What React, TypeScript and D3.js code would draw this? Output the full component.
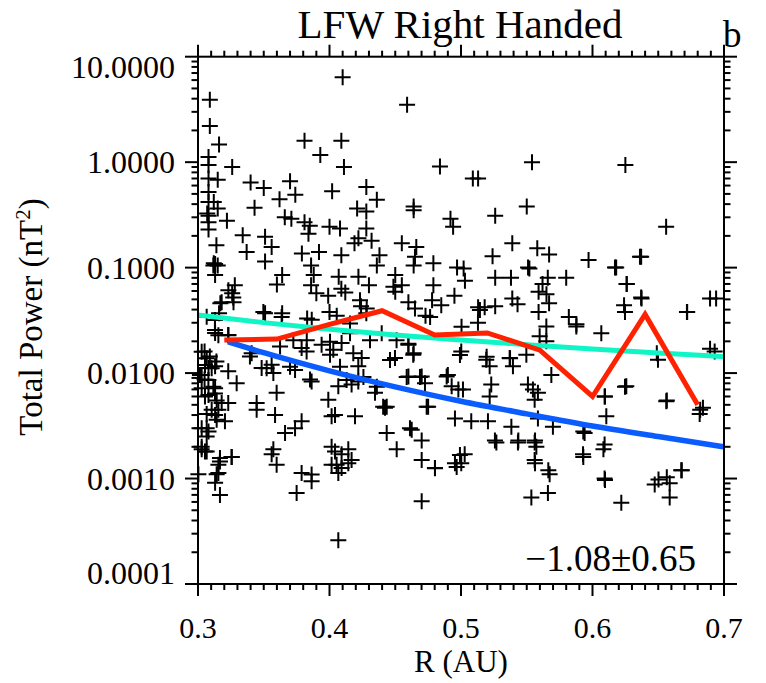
import React from "react";
import * as d3 from "d3";

// Scatter data: [R (AU), Total Power (nT^2)]
const scatterR: number[] = [];
const scatterP: number[] = [];
const points: [number, number][] = [
  [0.410, 6.4],[0.309, 3.9],[0.459, 3.5],[0.309, 2.2],[0.381, 1.6],[0.409, 1.6],[0.316, 1.47],[0.393, 1.17],[0.484, 0.91],[0.411, 0.90],
  [0.308, 1.12],[0.308, 0.94],[0.326, 0.90],[0.308, 0.70],[0.308, 0.52],[0.308, 0.42],[0.308, 0.31],[0.308, 0.27],[0.308, 0.23],
  [0.315, 0.68],[0.312, 0.42],[0.315, 0.364],[0.322, 0.278],[0.307, 0.326],[0.314, 0.163],[0.313, 0.108],[0.315, 0.105],[0.312, 0.11],[0.313, 0.085],[0.328, 0.068],[0.326, 0.057],[0.327, 0.047],[0.317, 0.046],[0.316, 0.037],
  [0.340, 0.64],[0.350, 0.57],[0.370, 0.66],[0.374, 0.49],[0.362, 0.445],[0.343, 0.37],[0.402, 0.53],[0.428, 0.58],[0.436, 0.44],[0.421, 0.364],[0.428, 0.34],[0.428, 0.235],[0.464, 0.38],[0.464, 0.35],[0.492, 0.29],[0.494, 0.244],
  [0.366, 0.30],[0.371, 0.29],[0.381, 0.27],[0.385, 0.25],[0.384, 0.21],[0.400, 0.244],[0.408, 0.235],[0.334, 0.203],[0.351, 0.196],[0.356, 0.157],[0.337, 0.141],[0.351, 0.114],[0.379, 0.136],[0.392, 0.141],[0.386, 0.105],[0.409, 0.131],[0.419, 0.17],[0.432, 0.18],[0.422, 0.19],[0.438, 0.131],[0.436, 0.105],[0.455, 0.17],[0.466, 0.157],[0.465, 0.127],[0.464, 0.105],[0.479, 0.11],[0.497, 0.10],
  [0.364, 0.085],[0.360, 0.069],[0.388, 0.085],[0.386, 0.068],[0.390, 0.057],[0.399, 0.054],[0.407, 0.082],[0.409, 0.063],[0.412, 0.058],[0.422, 0.082],[0.430, 0.068],[0.450, 0.085],[0.450, 0.059],[0.455, 0.068],[0.479, 0.068],[0.460, 0.047],[0.465, 0.041],[0.478, 0.049],[0.485, 0.044],[0.495, 0.054],[0.473, 0.035],[0.351, 0.037],[0.364, 0.037],[0.383, 0.033],[0.400, 0.038],[0.424, 0.043],[0.428, 0.037],
  [0.554, 1.0],[0.625, 0.94],[0.509, 0.70],[0.513, 0.70],[0.550, 0.38],[0.526, 0.31],[0.656, 0.244],[0.539, 0.17],[0.558, 0.153],[0.567, 0.133],[0.524, 0.128],[0.597, 0.118],[0.637, 0.127],[0.618, 0.10],[0.551, 0.10],[0.552, 0.098],[0.502, 0.098],[0.503, 0.075],[0.526, 0.08],[0.538, 0.08],[0.566, 0.08],[0.580, 0.08],[0.562, 0.07],[0.559, 0.059],[0.565, 0.056],[0.626, 0.07],[0.637, 0.052],[0.624, 0.044],[0.539, 0.051],[0.543, 0.045],[0.513, 0.042],[0.518, 0.042],[0.526, 0.043],[0.559, 0.038],[0.567, 0.046],[0.694, 0.051],[0.672, 0.038],[0.582, 0.034],
  [0.305, 0.016],[0.309, 0.0144],[0.313, 0.0116],[0.308, 0.0112],[0.314, 0.0129],[0.305, 0.0087],[0.313, 0.0072],[0.308, 0.0062],[0.318, 0.0052],[0.3155, 0.0045],[0.313, 0.0040],[0.3205, 0.0035],[0.3066, 0.0030],[0.308, 0.0028],[0.3028, 0.0020],[0.3053, 0.0018],[0.3167, 0.00157],[0.3256, 0.0016],[0.3155, 0.00135],[0.3155, 0.00113],[0.313, 0.00091],[0.3167, 0.00070],[0.323, 0.0104],[0.3294, 0.0080],[0.323, 0.0052],[0.3015, 0.0096],[0.3028, 0.0072],[0.313, 0.024],[0.323, 0.023],
  [0.3395, 0.0144],[0.3484, 0.0112],[0.356, 0.012],[0.3573, 0.010],[0.3624, 0.0179],[0.3738, 0.0107],[0.3788, 0.0173],[0.3826, 0.016],[0.3852, 0.0087],[0.3864, 0.0083],[0.394, 0.0186],[0.4004, 0.0149],[0.4029, 0.0166],[0.4092, 0.0193],[0.4156, 0.0239],[0.4245, 0.0139],[0.4219, 0.0116],[0.4346, 0.0065],[0.4067, 0.0075],[0.4168, 0.0078],[0.4219, 0.0083],[0.3598, 0.0065],[0.3446, 0.0052],[0.3446, 0.0045],[0.3586, 0.0040],[0.3991, 0.0056],[0.4016, 0.0039],[0.4042, 0.0040],[0.4194, 0.0039],[0.4435, 0.0048],[0.4422, 0.0047],[0.4498, 0.0139],[0.46, 0.0186],[0.4637, 0.0149],[0.46, 0.0093],[0.4701, 0.0093],[0.4726, 0.0080],[0.4891, 0.0093],[0.4929, 0.0075],[0.498, 0.0070],[0.4739, 0.0048],[0.4954, 0.0037],[0.4435, 0.0027],[0.4511, 0.0019],[0.4612, 0.0030],[0.4701, 0.0023],[0.4701, 0.0015],[0.4802, 0.00126],[0.4954, 0.0014],[0.3788, 0.0035],[0.3738, 0.0030],[0.3662, 0.0027],[0.3573, 0.0019],[0.3598, 0.00135],[0.356, 0.0017],[0.3788, 0.00113],[0.3864, 0.00109],[0.3864, 0.00094],[0.375, 0.00073],[0.4016, 0.0020],[0.4042, 0.0018],[0.4092, 0.0017],[0.4143, 0.0019],[0.4054, 0.00135],[0.4092, 0.00126],[0.4143, 0.0014],[0.4016, 0.00135],[0.4168, 0.0015],[0.4067, 0.00113],[0.4701, 0.00061],[0.4067, 0.00026],
  [0.5002, 0.016],[0.5015, 0.0070],[0.5028, 0.0017],[0.5002, 0.0014],[0.5078, 0.0035],[0.5192, 0.0134],[0.5218, 0.0116],[0.523, 0.0078],[0.5218, 0.0060],[0.5205, 0.0035],[0.5269, 0.0022],[0.537, 0.0139],[0.5395, 0.0116],[0.5383, 0.0031],[0.5433, 0.0022],[0.5497, 0.0149],[0.5509, 0.0078],[0.5547, 0.0070],[0.5585, 0.0065],[0.556, 0.0056],[0.5585, 0.0037],[0.556, 0.0022],[0.5573, 0.0020],[0.556, 0.0015],[0.5661, 0.00073],[0.5674, 0.0011],[0.5535, 0.00066],[0.5598, 0.0223],[0.5649, 0.020],[0.5649, 0.0277],[0.5687, 0.0096],[0.5699, 0.0031],[0.5877, 0.0277],[0.6067, 0.0239],[0.594, 0.0027],[0.5928, 0.0017],[0.6092, 0.0060],[0.6105, 0.0039],[0.6092, 0.0021],[0.6257, 0.0075],[0.6092, 0.0010],[0.6219, 0.00059],[0.6561, 0.0054],[0.6498, 0.0134],[0.6473, 0.00088],[0.6587, 0.00090],[0.6587, 0.00066],[0.6675, 0.0012],[0.684, 0.0047],[0.6815, 0.0041],[0.6929, 0.016],[0.5129, 0.030],
  [0.4486, 0.066],[0.4765, 0.034],[0.46, 0.019],[0.464, 0.0154],[0.446, 0.0133],[0.4587, 0.0092],[0.4688, 0.0092],[0.490, 0.0096],[0.4992, 0.0148],[0.5195, 0.0143],[0.5373, 0.0138],[0.5004, 0.0275],[0.5144, 0.0396],[0.475, 0.0048],[0.4408, 0.0048],[0.4625, 0.0029],[0.4802, 0.00125],[0.4992, 0.00167],[0.4967, 0.00129],[0.5258, 0.0023],[0.5436, 0.0023],[0.5563, 0.0023],[0.5563, 0.0014],[0.5664, 0.0012],[0.593, 0.0016],[0.6083, 0.0019],[0.6095, 0.00097],[0.593, 0.0028],[0.6247, 0.0074],[0.6565, 0.0055],[0.6679, 0.0012],[0.6502, 0.00098],[0.6565, 0.00103],[0.6819, 0.0045],[0.6489, 0.0154],[0.6894, 0.017],[0.6894, 0.051],[0.6718, 0.038],[0.6361, 0.127],[0.6171, 0.10],[0.626, 0.07],[0.6373, 0.051],[0.6247, 0.038],[0.5878, 0.029],[0.6095, 0.0060],
  [0.3117, 0.105],[0.3231, 0.061],[0.3268, 0.052],[0.318, 0.047],[0.3066, 0.0342],[0.3129, 0.0318],[0.3129, 0.0256],[0.3155, 0.0229],[0.3231, 0.0229],[0.3028, 0.0159],[0.3066, 0.0138],[0.3053, 0.0119],[0.3104, 0.0111],[0.3028, 0.0096],[0.3079, 0.0086],[0.3117, 0.0074],[0.3129, 0.0064],[0.3053, 0.0060],[0.3142, 0.0055],[0.3104, 0.0045],[0.3066, 0.0041],[0.3142, 0.0036],[0.3028, 0.0030],[0.3066, 0.0025],[0.3028, 0.0019],[0.3066, 0.0018],[0.3167, 0.00145],[0.3256, 0.0016],[0.3142, 0.0011],[0.3003, 0.0011],
  [0.3497, 0.038],[0.3636, 0.034],[0.3725, 0.0205],[0.3827, 0.0205],[0.3865, 0.032],[0.4004, 0.0198],[0.4055, 0.035],[0.4156, 0.0296],[0.4232, 0.049],[0.4283, 0.041],[0.4308, 0.0205],[0.4397, 0.0238],[0.451, 0.0205],[0.4181, 0.0154],[0.3408, 0.0154],[0.3522, 0.0111],[0.37, 0.0115],[0.408, 0.0115],[0.413, 0.0086],[0.4258, 0.0092],[0.436, 0.0074],
];
points.forEach(([r, p]) => { scatterR.push(r); scatterP.push(p); });

// Binned mean (red)
const redR = [0.32, 0.36, 0.40, 0.44, 0.48, 0.52, 0.56, 0.60, 0.64, 0.68];
const redP = [0.0206, 0.0210, 0.029, 0.039, 0.023, 0.024, 0.0165, 0.0060, 0.036, 0.0050];

// Fit line (cyan)
const cyanR = [0.30, 0.35, 0.40, 0.45, 0.50, 0.55, 0.60, 0.65, 0.70];
const cyanP = [0.0355, 0.0301, 0.0261, 0.0230, 0.0206, 0.0186, 0.0169, 0.0155, 0.0143];

// Reference line (blue)
const blueR = [0.3228, 0.35, 0.40, 0.45, 0.50, 0.55, 0.60, 0.65, 0.70];
const blueP = [0.0198, 0.0156, 0.0105, 0.0074, 0.0054, 0.0041, 0.00315, 0.0025, 0.0020];

const xTicks = [0.3, 0.4, 0.5, 0.6, 0.7];
const xTickLabels = ["0.3", "0.4", "0.5", "0.6", "0.7"];
const yTicks = [10, 1, 0.1, 0.01, 0.001, 0.0001];
const yTickLabels = ["10.0000", "1.0000", "0.1000", "0.0100", "0.0010", "0.0001"];

const title = "LFW Right Handed";
const panelLetter = "b";
const xTitle = "R (AU)";
const annotation = "\u22121.08\u00b10.65";

const W = 766, H = 683;
const L = 198, R = 724, T = 56.7, B = 584;
const FONT = "'Liberation Serif', 'Times New Roman', 'DejaVu Serif', serif";

export default function App() {
  const x = d3.scaleLinear().domain([0.3, 0.7]).range([L, R]);
  const y = d3.scaleLog().domain([0.0001, 10]).range([B, T]);

  const line = d3.line<[number, number]>().x(d => x(d[0])).y(d => y(d[1]));
  const smooth = d3.line<[number, number]>().x(d => x(d[0])).y(d => y(d[1])).curve(d3.curveMonotoneX);

  const redData = redR.map((r, i) => [r, redP[i]] as [number, number]);
  const cyanData = cyanR.map((r, i) => [r, cyanP[i]] as [number, number]);
  const blueData = blueR.map((r, i) => [r, blueP[i]] as [number, number]);

  const xMinor = d3.range(30, 71).map(v => v / 100).filter(v => !xTicks.some(t => Math.abs(t - v) < 1e-9));
  const yMinor: number[] = [];
  for (let e = -4; e < 1; e++) for (let k = 2; k <= 9; k++) yMinor.push(k * Math.pow(10, e));

  const s = 8; // cross half size
  const ax = { stroke: "#000", strokeWidth: 2 };

  return (
    <svg width={W} height={H} style={{ position: "absolute", left: 0, top: 0, background: "#fff" }} fontFamily={FONT}>
      <rect x={0} y={0} width={W} height={H} fill="#fff" />
      {/* scatter */}
      <g stroke="#000" strokeWidth={2} fill="none">
        {scatterR.map((r, i) => {
          const cx = x(r), cy = y(scatterP[i]);
          return <path key={i} d={`M${cx - s},${cy}H${cx + s}M${cx},${cy - s}V${cy + s}`} />;
        })}
      </g>
      <path d={smooth(cyanData) || ""} fill="none" stroke="#10f5c5" strokeWidth={5} />
      <path d={smooth(blueData) || ""} fill="none" stroke="#0a5cff" strokeWidth={5.5} />
      <path d={line(redData) || ""} fill="none" stroke="#ff2200" strokeWidth={5} strokeLinejoin="miter" />

      {/* frame */}
      <rect x={L} y={T} width={R - L} height={B - T} fill="none" {...ax} />
      {/* x ticks */}
      {xTicks.map(t => (
        <g key={"xt" + t} {...ax}>
          <line x1={x(t)} x2={x(t)} y1={B} y2={B + 12} />
          <line x1={x(t)} x2={x(t)} y1={T} y2={T - 12} />
        </g>
      ))}
      {xMinor.map(t => (
        <g key={"xm" + t} {...ax}>
          <line x1={x(t)} x2={x(t)} y1={B} y2={B + 6} />
          <line x1={x(t)} x2={x(t)} y1={T} y2={T - 6} />
        </g>
      ))}
      {/* y ticks */}
      {yTicks.map(t => (
        <g key={"yt" + t} {...ax}>
          <line x1={L} x2={L - 13} y1={y(t)} y2={y(t)} />
          <line x1={R} x2={R + 13} y1={y(t)} y2={y(t)} />
        </g>
      ))}
      {yMinor.map(t => (
        <g key={"ym" + t} {...ax}>
          <line x1={L} x2={L - 6.5} y1={y(t)} y2={y(t)} />
          <line x1={R} x2={R + 6.5} y1={y(t)} y2={y(t)} />
        </g>
      ))}
      {/* tick labels */}
      {xTicks.map((t, i) => (
        <text key={"xl" + t} x={x(t)} y={638} fontSize={30} textAnchor="middle" fill="#000">{xTickLabels[i]}</text>
      ))}
      {yTicks.map((t, i) => {
        const cy = Math.min(Math.max(y(t), T + 10), B - 11);
        return <text key={"yl" + t} x={175} y={cy + 11} fontSize={32} textAnchor="end" fill="#000">{yTickLabels[i]}</text>;
      })}
      {/* titles */}
      <text x={460} y={38} fontSize={41} textAnchor="middle" fill="#000">{title}</text>
      <text x={723} y={46.5} fontSize={37} fill="#000">{panelLetter}</text>
      <text x={461} y={672} fontSize={31} textAnchor="middle" fill="#000">{xTitle}</text>
      <text transform="translate(42,317) rotate(-90)" fontSize={33} textAnchor="middle" fill="#000">
        Total Power (nT<tspan dy={-12} fontSize={21}>2</tspan><tspan dy={12}>)</tspan>
      </text>
      <text x={696} y={571} fontSize={37} textAnchor="end" fill="#000">{annotation}</text>
    </svg>
  );
}
